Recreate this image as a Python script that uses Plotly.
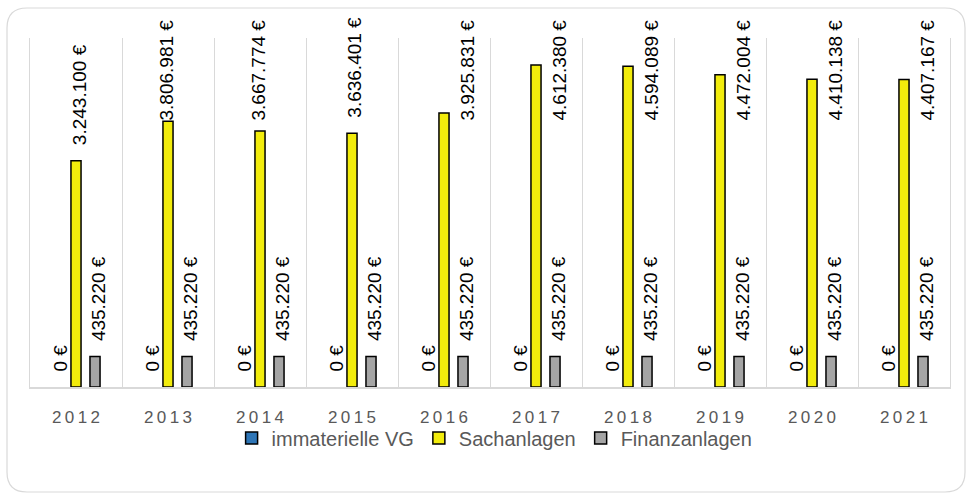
import plotly.graph_objects as go

years = ["2012", "2013", "2014", "2015", "2016", "2017", "2018", "2019", "2020", "2021"]
immaterielle_vg = [0, 0, 0, 0, 0, 0, 0, 0, 0, 0]
sachanlagen = [3243100, 3806981, 3667774, 3636401, 3925831, 4612380, 4594089, 4472004, 4410138, 4407167]
finanzanlagen = [435220, 435220, 435220, 435220, 435220, 435220, 435220, 435220, 435220, 435220]
tick_labels = ["\u2009".join(y) for y in years]

series = [
    ("immaterielle VG", immaterielle_vg, "#2E75B6"),
    ("Sachanlagen", sachanlagen, "#F2EC0C"),
    ("Finanzanlagen", finanzanlagen, "#A5A5A5"),
]

W, H = 972, 500
ML, MR, MT, MB = 30, 22, 38, 113
PW = W - ML - MR
PH = H - MT - MB
YMAX = 5000000


def fmt(v):
    return f"{v:,.0f}".replace(",", ".") + " €"


fig = go.Figure()
for si, (name, vals, col) in enumerate(series):
    zero_only = all(v == 0 for v in vals)
    fig.add_trace(go.Bar(
        x=years, y=vals, name=name, offsetgroup=str(si), legendrank=si,
        showlegend=not zero_only,
        marker=dict(color=col, line=dict(color="#000000", width=0 if zero_only else 1.5)),
    ))
    if zero_only:
        # legend entry only (zero-height bars are not drawn in the original)
        fig.add_trace(go.Bar(
            x=[None], y=[None], name=name, offsetgroup=str(si), legendrank=si,
            marker=dict(color=col, line=dict(color="#000000", width=1.5)),
            hoverinfo="skip",
        ))

# data labels (rotated), clamped to the chart area like the original
LABEL_FONT = dict(family="Liberation Sans, Arial, sans-serif", size=19, color="#000000")
CHAR_W = {".": 0.278, " ": 0.278}
GAP = 13
TOP_PX = 18  # topmost label position (px from top of figure)
offsets = [-19, 0, 19]
annotations = []
for si, (name, vals, col) in enumerate(series):
    for xi, v in enumerate(vals):
        txt = fmt(v)
        tl = sum(CHAR_W.get(c, 0.556) for c in txt) * LABEL_FONT["size"]
        bar_top_px = MT + PH * (1 - v / YMAX)
        xs = offsets[si] + 3
        if bar_top_px - GAP - tl >= TOP_PX:
            annotations.append(dict(
                x=xi, y=v, xref="x", yref="y", text=txt, textangle=-90,
                showarrow=False, xanchor="center", yanchor="bottom",
                xshift=xs, yshift=GAP, font=LABEL_FONT,
            ))
        else:
            bottom_px = TOP_PX + tl
            if bottom_px > bar_top_px:
                xs = offsets[si] + 23
            else:
                xs = offsets[si] - 2
            annotations.append(dict(
                x=xi, y=(H - MB - TOP_PX) / PH, xref="x", yref="paper", text=txt,
                textangle=-90, showarrow=False, xanchor="center", yanchor="top",
                xshift=xs, font=LABEL_FONT,
            ))


def px_x(p):
    return (p - ML) / PW


def px_y(p):
    return (H - MB - p) / PH


# rounded outer border
x0, x1, y0, y1, r = 7, 965, 8, 492, 20
path = (
    f"M {px_x(x0 + r)} {px_y(y0)} L {px_x(x1 - r)} {px_y(y0)} "
    f"Q {px_x(x1)} {px_y(y0)} {px_x(x1)} {px_y(y0 + r)} "
    f"L {px_x(x1)} {px_y(y1 - r)} "
    f"Q {px_x(x1)} {px_y(y1)} {px_x(x1 - r)} {px_y(y1)} "
    f"L {px_x(x0 + r)} {px_y(y1)} "
    f"Q {px_x(x0)} {px_y(y1)} {px_x(x0)} {px_y(y1 - r)} "
    f"L {px_x(x0)} {px_y(y0 + r)} "
    f"Q {px_x(x0)} {px_y(y0)} {px_x(x0 + r)} {px_y(y0)} Z"
)

fig.update_layout(
    width=W, height=H,
    margin=dict(l=ML, r=MR, t=MT, b=MB),
    paper_bgcolor="#FFFFFF", plot_bgcolor="#FFFFFF",
    barmode="group", bargap=0.38, bargroupgap=0.47,
    font=dict(family="Liberation Sans, Arial, sans-serif", color="#595959"),
    showlegend=True,
    legend=dict(
        orientation="h", x=0.505, xanchor="center", y=px_y(438), yanchor="middle",
        font=dict(size=20, color="#595959"), itemwidth=30, traceorder="normal",
        bgcolor="rgba(0,0,0,0)",
    ),
    annotations=annotations,
    shapes=[dict(type="path", path=path, xref="paper", yref="paper",
                 line=dict(color="#D9D9D9", width=1.2), layer="below")],
    xaxis=dict(
        type="category", tickson="boundaries", showgrid=True, gridcolor="#D9D9D9",
        gridwidth=1.3, showline=True, linecolor="#D9D9D9", linewidth=2,
        ticks="", tickmode="array", tickvals=years, ticktext=tick_labels,
        tickfont=dict(size=17, color="#595959"), ticklabelstandoff=14,
        range=[-0.5, 9.5], zeroline=False,
    ),
    yaxis=dict(range=[0, YMAX], showticklabels=False, ticks="", showgrid=False,
               zeroline=False, showline=True, mirror=True, linecolor="#D9D9D9",
               linewidth=1.3),
)

fig.write_html("out.html", config={"displayModeBar": False},
               post_script="document.body.style.margin='0';")
